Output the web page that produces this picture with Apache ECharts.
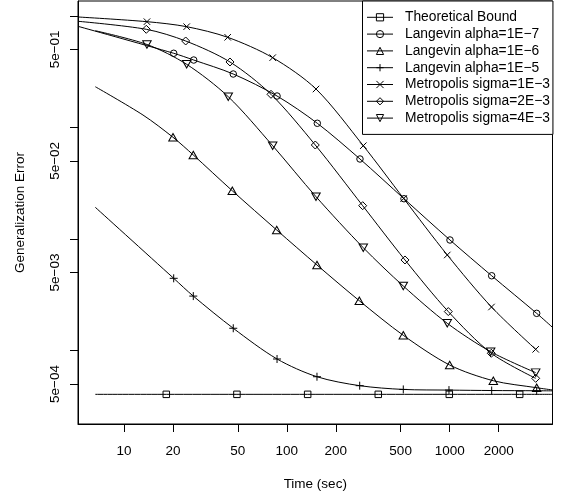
<!DOCTYPE html>
<html><head><meta charset="utf-8">
<script src="https://cdn.jsdelivr.net/npm/echarts@6/dist/echarts.min.js"></script>
<style>html,body{margin:0;padding:0;background:#fff}#c{width:563px;height:498px}</style>
</head><body><div id="c"></div>
<script>
const seriesNames = ['Theoretical Bound', 'Langevin alpha=1E\u22127', 'Langevin alpha=1E\u22126', 'Langevin alpha=1E\u22125',
  'Metropolis sigma=1E\u22123', 'Metropolis sigma=2E\u22123', 'Metropolis sigma=4E\u22123'];

// Theoretical Bound (squares)
const boundT = [6.665, 18.19, 49.4, 134.3, 364.5, 995, 2692, 4282];
const boundV = [0.000404, 0.000404, 0.000404, 0.000404, 0.000404, 0.000404, 0.000404, 0.000404];
const boundM = [0, 1, 1, 1, 1, 1, 1, 0];

// Langevin alpha=1E-7 (circles)
const lang7T = [5.22, 20.2, 26.8, 46.9, 87.1, 153.9, 281.4, 524.4, 1004.8, 1812, 3424, 4282];
const lang7V = [0.804, 0.461, 0.401, 0.3005, 0.1908, 0.1087, 0.0520, 0.0229, 0.00977, 0.00467, 0.00215, 0.00161];
const lang7M = [0, 1, 1, 1, 1, 1, 1, 1, 1, 1, 1, 0];

// Langevin alpha=1E-6 (triangles)
const lang6T = [6.665, 13.08, 20.0, 26.65, 46.25, 86.7, 153.2, 278.7, 519.2, 1000.4, 1854, 3424, 4282];
const lang6V = [0.2312, 0.1289, 0.0814, 0.0565, 0.0270, 0.0120, 0.00583, 0.00279, 0.001366, 0.00074, 0.000535, 0.000463, 0.000442];
const lang6M = [0, 0, 1, 1, 1, 1, 1, 1, 1, 1, 1, 1, 0];

// Langevin alpha=1E-5 (plus)
const lang5T = [6.665, 20.2, 26.65, 46.9, 87.1, 153.2, 280.3, 519.2, 990.6, 1812, 3424, 4282];
const lang5V = [0.01919, 0.00443, 0.00307, 0.00158, 0.000838, 0.000581, 0.000483, 0.000447, 0.000441, 0.000437, 0.000435, 0.000434];
const lang5M = [0, 1, 1, 1, 1, 1, 1, 1, 1, 1, 1, 0];

// Metropolis sigma=1E-3 (cross)
const met1T = [5.22, 13.84, 24.27, 43.35, 81.9, 151.1, 294.9, 522, 967, 1807, 3376];
const met1V = [0.975, 0.885, 0.798, 0.641, 0.421, 0.2205, 0.0684, 0.0230, 0.00717, 0.00245, 0.001023];
const met1M = [0, 1, 1, 1, 1, 1, 1, 1, 1, 1, 1];

// Metropolis sigma=2E-3 (diamond)
const met2T = [5.22, 13.71, 23.93, 44.77, 79.95, 149.6, 292.4, 531.8, 981, 1802, 3376];
const met2V = [0.892, 0.756, 0.594, 0.385, 0.1976, 0.0694, 0.01983, 0.00647, 0.00223, 0.000943, 0.000562];
const met2M = [0, 1, 1, 1, 1, 1, 1, 1, 1, 1, 1];

// Metropolis sigma=4E-3 (down triangle)
const met4T = [6.665, 13.84, 24.27, 43.7, 81.9, 151.1, 294.9, 519.2, 967, 1786, 3376];
const met4V = [0.7345, 0.5526, 0.367, 0.188, 0.0684, 0.02388, 0.00833, 0.00378, 0.00175, 0.000974, 0.000632];
const met4M = [0, 1, 1, 1, 1, 1, 1, 1, 1, 1, 1];

const xTickValues = [10, 20, 50, 100, 200, 500, 1000, 2000];
const xTickLabels = ['10', '20', '50', '100', '200', '500', '1000', '2000'];
const yTickValues = [0.0005, 0.001, 0.005, 0.01, 0.05, 0.1, 0.5, 1];
const yLabelValues = [0.0005, 0.005, 0.05, 0.5];
const yTickLabels = ['5e\u221204', '5e\u221203', '5e\u221202', '5e\u221201'];

const FONT = 'Liberation Sans';

function nearestIdx(arr, v) {
  let best = 0, bd = Infinity;
  arr.forEach((a, i) => { const d = Math.abs(Math.log(a) - Math.log(v)); if (d < bd) { bd = d; best = i; } });
  return best;
}

function mk(name, t, v, m, symbol, size, rotate) {
  return {
    name: name, type: 'line', smooth: 0.3, symbol: symbol, symbolSize: size, symbolRotate: rotate || 0,
    showSymbol: true, showAllSymbol: true, clip: true,
    lineStyle: { color: '#000', width: 1 },
    itemStyle: { color: 'rgba(0,0,0,0)', borderColor: '#000', borderWidth: 1 },
    emphasis: { disabled: true },
    data: t.map((x, i) => ({ value: [x, v[i]], symbol: m[i] ? symbol : 'none' }))
  };
}

const CROSS = 'path://M0,0L10,10M10,0L0,10';
const PLUS = 'path://M5,0L5,10M0,5L10,5';

const chart = echarts.init(document.getElementById('c'), null, { renderer: 'canvas' });
chart.setOption({
  animation: false,
  backgroundColor: '#fff',
  textStyle: { fontFamily: FONT },
  grid: { left: 78, right: 10.5, top: 1, bottom: 74, show: true, borderColor: '#000', borderWidth: 1,
    containLabel: false, outerBoundsMode: 'none' },
  xAxis: {
    type: 'log', logBase: 10, min: 5.22, max: 4282,
    splitLine: { show: false }, minorTick: { show: false },
    axisLine: { show: true, lineStyle: { color: '#000', width: 1 } },
    axisTick: { show: true, inside: false, length: 8, lineStyle: { color: '#000', width: 1 }, customValues: xTickValues },
    axisLabel: { customValues: xTickValues, margin: 20, fontSize: 13.5, color: '#000', fontFamily: FONT,
      formatter: v => xTickLabels[nearestIdx(xTickValues, v)] },
    name: 'Time (sec)', nameLocation: 'middle', nameGap: 53,
    nameTextStyle: { fontSize: 13.5, color: '#000', fontFamily: FONT }
  },
  yAxis: {
    type: 'log', logBase: 10, min: 0.000219, max: 1.356,
    splitLine: { show: false }, minorTick: { show: false },
    axisLine: { show: true, lineStyle: { color: '#000', width: 1 } },
    axisTick: { show: true, inside: false, length: 8, lineStyle: { color: '#000', width: 1 }, customValues: yTickValues },
    axisLabel: { customValues: yLabelValues, rotate: 90, margin: 16, fontSize: 13.5, color: '#000', fontFamily: FONT,
      formatter: v => yTickLabels[nearestIdx(yLabelValues, v)] },
    name: 'Generalization Error', nameLocation: 'middle', nameGap: 51, nameRotate: 90,
    nameTextStyle: { fontSize: 13.5, color: '#000', fontFamily: FONT }
  },
  legend: {
    orient: 'vertical', left: 362.5, top: 1,
    padding: [9.3, 3, 9.3, 4],
    itemWidth: 26, itemHeight: 9, itemGap: 2.8,
    backgroundColor: '#fff', borderColor: '#000', borderWidth: 1, borderRadius: 0,
    textStyle: { fontFamily: FONT, fontSize: 13.8, color: '#000', lineHeight: 14, padding: [0, 0, 0, 7] },
    itemStyle: { color: 'rgba(0,0,0,0)', borderColor: '#000', borderWidth: 1 },
    lineStyle: { color: '#000', width: 1 },
    selectedMode: false,
    data: seriesNames
  },
  series: [
    mk(seriesNames[0], boundT, boundV, boundM, 'rect', 6.5),
    mk(seriesNames[1], lang7T, lang7V, lang7M, 'circle', 6.5),
    mk(seriesNames[2], lang6T, lang6V, lang6M, 'triangle', [8.5, 7.5]),
    mk(seriesNames[3], lang5T, lang5V, lang5M, PLUS, 8),
    mk(seriesNames[4], met1T, met1V, met1M, CROSS, 6.5),
    mk(seriesNames[5], met2T, met2V, met2M, 'diamond', 8),
    mk(seriesNames[6], met4T, met4V, met4M, 'triangle', [8.5, 7.5], 180)
  ]
});
</script></body></html>
